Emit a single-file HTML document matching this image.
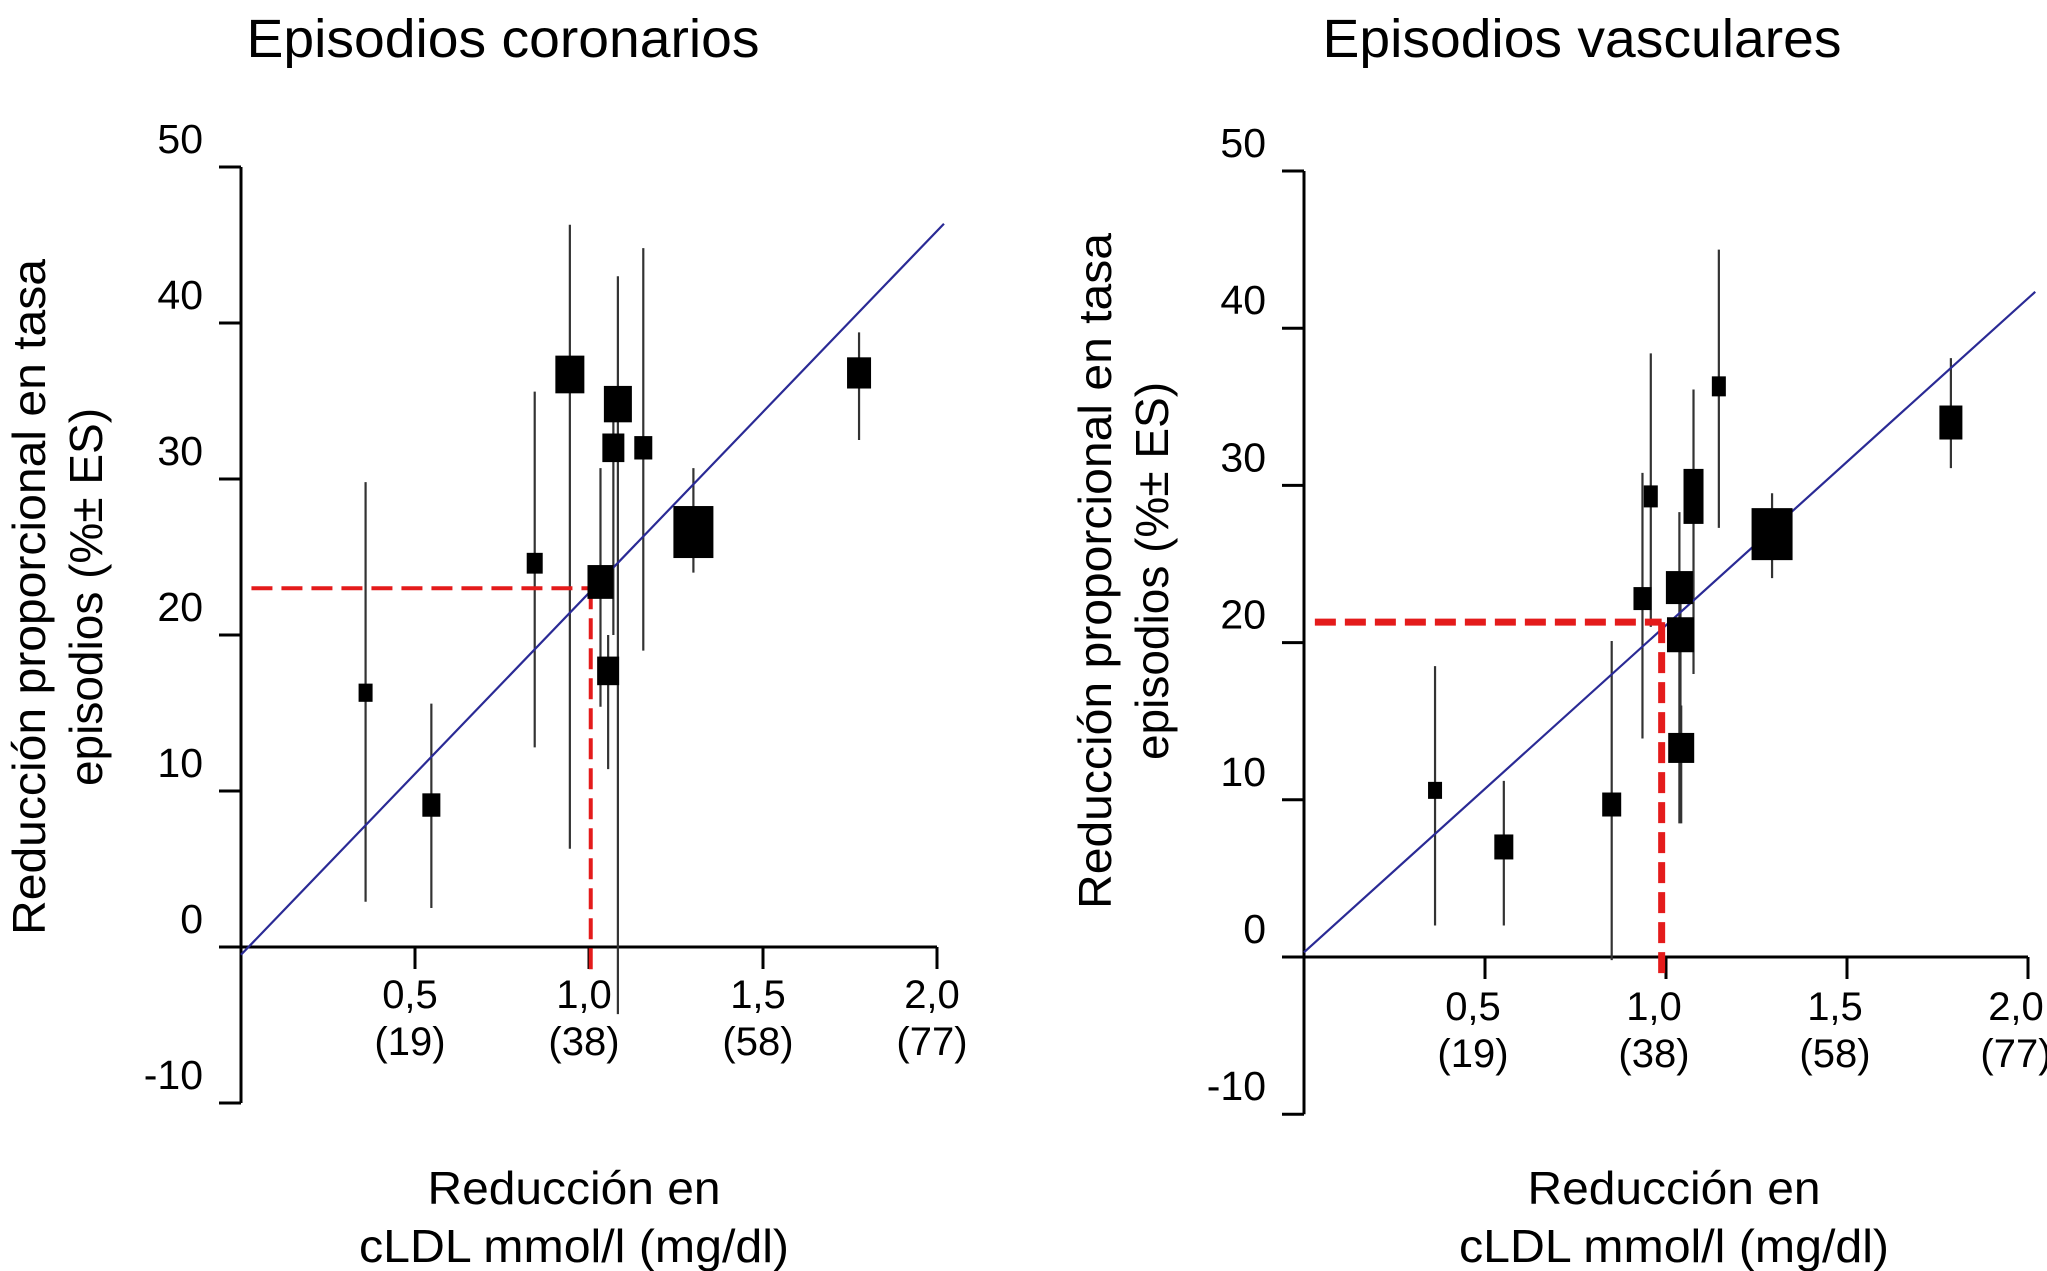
<!DOCTYPE html>
<html><head><meta charset="utf-8"><style>
html,body{margin:0;padding:0;background:#fff;}
svg{display:block;}
text{font-family:"Liberation Sans",Arial,sans-serif;fill:#000;}
</style></head>
<body>
<svg id="fig" width="2047" height="1271" viewBox="0 0 2047 1271" xmlns="http://www.w3.org/2000/svg">
<rect width="2047" height="1271" fill="#fff"/>
</svg>
<script>
// ---- Chart 1: Episodios coronarios ----
const coronX   = [0.358, 0.547, 0.844, 0.945, 1.033, 1.055, 1.083, 1.070, 1.156, 1.300, 1.776];
const coronY   = [16.3, 9.1, 24.6, 36.7, 23.4, 17.7, 34.8, 32.0, 32.0, 26.6, 36.8];
const coronLo  = [2.9, 2.5, 12.8, 6.3, 15.4, 11.4, -4.3, 20.0, 19.0, 24.0, 32.5];
const coronHi  = [29.8, 15.6, 35.6, 46.3, 30.7, 20.0, 43.0, 34.0, 44.8, 30.7, 39.4];
const coronW   = [14, 18, 16, 29, 26, 22, 28, 22, 18, 40, 24];
const coronFit = [-0.5, 23.2];   // intercept, slope
const coronRef = [1.005, 23.0];  // x, y of dashed reference
// ---- Chart 2: Episodios vasculares ----
const vascX   = [0.362, 0.552, 0.850, 0.935, 0.958, 1.037, 1.040, 1.042, 1.076, 1.146, 1.293, 1.787];
const vascY   = [10.6, 7.0, 9.7, 22.8, 29.3, 23.5, 20.5, 13.3, 29.3, 36.3, 26.9, 34.0];
const vascLo  = [2.0, 2.0, -0.2, 13.9, 21.0, 8.5, 10.0, 8.5, 18.0, 27.3, 24.1, 31.1];
const vascHi  = [18.5, 11.2, 20.1, 30.8, 38.4, 28.3, 24.0, 16.0, 36.1, 45.0, 29.5, 38.1];
const vascW   = [14, 19, 19, 18, 14, 27, 27, 26, 20, 14, 41, 23];
const vascHt  = [17, 25, 24, 23, 22, 33, 35, 30, 55, 20, 52, 34];
const vascFit = [0.3, 20.8];
const vascRef = [0.988, 21.3];
// ---- Axes ----
const yTicks = [50, 40, 30, 20, 10, 0, -10];
const yTickLabels = ["50","40","30","20","10","0","-10"];
const xTicks = [0.5, 1.0, 1.5, 2.0];
const xTickLabels = ["0,5","1,0","1,5","2,0"];
const xTickLabels2 = ["(19)","(38)","(58)","(77)"];

const NS="http://www.w3.org/2000/svg";
const svg=document.getElementById('fig');
function mk(tag,attrs,parent){const e=document.createElementNS(NS,tag);for(const k in attrs)e.setAttribute(k,attrs[k]);(parent||svg).appendChild(e);return e;}

function chart(cfg){
  const g=mk('g',{});
  
  
  const sx=v=>cfg.x0+v*cfg.ux;
  const sy=v=>cfg.y0-v*cfg.uy/10;
  const ya=mk('line',{x1:sx(0),y1:sy(50),x2:sx(0),y2:sy(-10),stroke:'#000','stroke-width':3},g);
  
  
  const xa=mk('line',{x1:sx(0)-20,y1:sy(0),x2:sx(2),y2:sy(0),stroke:'#000','stroke-width':3},g);
  
  
  yTicks.forEach((t,i)=>{
    const tk=mk('line',{x1:sx(0)-22,y1:sy(t),x2:sx(0),y2:sy(t),stroke:'#000','stroke-width':3},g);
    
    
    const tl=mk('text',{x:sx(0)-38,y:sy(t)-14,'font-size':41,'text-anchor':'end'},g);
    tl.textContent=yTickLabels[i];
    
    
  });
  xTicks.forEach((t,i)=>{
    const tk=mk('line',{x1:sx(t),y1:sy(0),x2:sx(t),y2:sy(0)+22,stroke:'#000','stroke-width':3},g);
    
    
    const tl=mk('text',{x:sx(t)+cfg.ldx,y:sy(0)+61+cfg.dy,'font-size':40,'text-anchor':'middle'},g);
    tl.textContent=xTickLabels[i];
    
    
    const tl2=mk('text',{x:sx(t)+cfg.ldx,y:sy(0)+108+cfg.dy,'font-size':40,'text-anchor':'middle'},g);
    tl2.textContent=xTickLabels2[i];
    
    
  });
  cfg.xs.forEach((x,i)=>{
    const eb=mk('line',{x1:sx(x),y1:sy(cfg.hi[i]),x2:sx(x),y2:sy(cfg.lo[i]),stroke:'#333','stroke-width':2.2},g);
    
    
  });
  const rl=mk('line',{x1:sx(0),y1:sy(cfg.fit[0]),x2:sx(2.02),y2:sy(cfg.fit[0]+cfg.fit[1]*2.02),stroke:'#2a2a95','stroke-width':2.2},g);
  
  
  const rh=mk('line',{x1:sx(0.03),y1:sy(cfg.ref[1]),x2:sx(cfg.ref[0]),y2:sy(cfg.ref[1]),stroke:'#e41b1b','stroke-width':cfg.rw,'stroke-dasharray':'21 9'},g);
  
  
  const rv=mk('line',{x1:sx(cfg.ref[0]),y1:sy(cfg.ref[1]),x2:sx(cfg.ref[0]),y2:sy(-1.6),stroke:'#e41b1b','stroke-width':cfg.rw,'stroke-dasharray':'21 9'},g);
  
  
  cfg.xs.forEach((x,i)=>{
    const w=cfg.w[i], h=cfg.h?cfg.h[i]:w*1.3;
    const r=mk('rect',{x:sx(x)-w/2,y:sy(cfg.ys[i])-h/2,width:w,height:h,fill:'#000'},g);
    
    
  });
  const t=mk('text',{x:cfg.tx,y:57,'font-size':54,'text-anchor':'middle',textLength:cfg.tl,lengthAdjust:'spacingAndGlyphs'},g);
  t.textContent=cfg.title;
  
  
  const a1=mk('text',{x:cfg.xt,y:1204,'font-size':46,'text-anchor':'middle',textLength:293,lengthAdjust:'spacingAndGlyphs'},g);
  a1.textContent='Reducción en';
  
  
  const a2=mk('text',{x:cfg.xt,y:1262,'font-size':46,'text-anchor':'middle',textLength:430,lengthAdjust:'spacingAndGlyphs'},g);
  a2.textContent='cLDL mmol/l (mg/dl)';
  
  
  const y1=mk('text',{x:0,y:0,'font-size':46,'text-anchor':'middle',textLength:676,lengthAdjust:'spacingAndGlyphs',transform:`translate(${cfg.yt1},${cfg.yc}) rotate(-90)`},g);
  y1.textContent='Reducción proporcional en tasa';
  
  
  const y2=mk('text',{x:0,y:0,'font-size':46,'text-anchor':'middle',transform:`translate(${cfg.yt1+57},${cfg.yc}) rotate(-90)`},g);
  y2.textContent='episodios (%± ES)';
  
  
}

chart({name:'coronary-chart',x0:241,ux:348,y0:947,uy:156,xs:coronX,ys:coronY,lo:coronLo,hi:coronHi,w:coronW,fit:coronFit,ref:coronRef,rw:4,
  title:'Episodios coronarios',tx:503,tl:513,xt:574,yt1:45,yc:597,dy:0,ldx:-5});
chart({name:'vascular-chart',x0:1304,ux:362,y0:957,uy:157.2,xs:vascX,ys:vascY,lo:vascLo,hi:vascHi,w:vascW,h:vascHt,fit:vascFit,ref:vascRef,rw:7,
  title:'Episodios vasculares',tx:1582,tl:519,xt:1674,yt1:1111,yc:571,dy:2,ldx:-12});
</script>
</body></html>
